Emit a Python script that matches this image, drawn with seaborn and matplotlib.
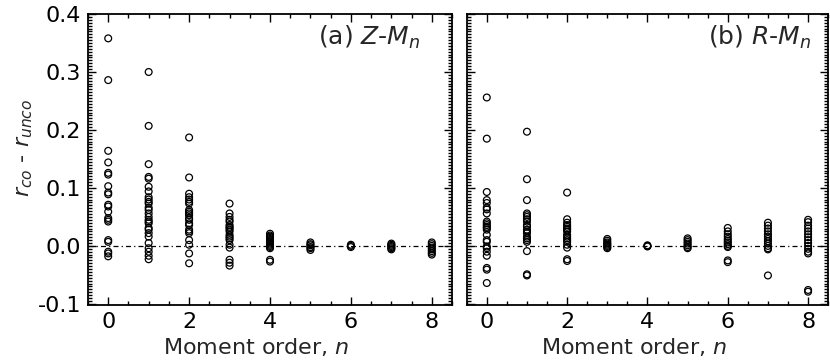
import matplotlib
matplotlib.use("Agg")
import matplotlib.pyplot as plt
import pandas as pd
import seaborn as sns
from matplotlib.ticker import MultipleLocator, FormatStrFormatter

orders = [0, 1, 2, 3, 4, 5, 6, 7, 8]

# r_co - r_unco, one list per moment order n
zm_diff = [
    [0.358, 0.286, 0.164, 0.144, 0.126, 0.123, 0.103, 0.092, 0.089, 0.071, 0.068,
     0.059, 0.048, 0.045, 0.042, 0.010, 0.007, -0.010, -0.013, -0.018],
    [0.300, 0.207, 0.141, 0.119, 0.116, 0.102, 0.094, 0.084, 0.080, 0.076, 0.073,
     0.066, 0.062, 0.056, 0.050, 0.045, 0.042, 0.039, 0.031, 0.028, 0.022, 0.016,
     0.005, -0.004, -0.010, -0.017, -0.023],
    [0.187, 0.118, 0.090, 0.084, 0.080, 0.076, 0.073, 0.062, 0.059, 0.056, 0.053,
     0.048, 0.045, 0.039, 0.036, 0.028, 0.025, 0.022, 0.010, 0.002, -0.013, -0.030],
    [0.073, 0.056, 0.050, 0.045, 0.042, 0.036, 0.033, 0.031, 0.028, 0.025, 0.019,
     0.016, 0.013, 0.010, 0.002, -0.003, -0.024, -0.029, -0.034],
    [0.021, 0.018, 0.016, 0.014, 0.012, 0.010, 0.008, 0.006, 0.004, 0.002, 0.000,
     -0.002, -0.004, -0.024, -0.027],
    [0.006, 0.003, 0.001, -0.002, -0.004, -0.007],
    [0.002, 0.000, -0.002],
    [0.004, 0.002, 0.000, -0.002, -0.004, -0.006],
    [0.006, 0.003, 0.000, -0.003, -0.006, -0.009, -0.012, -0.015],
]

rm_diff = [
    [0.256, 0.185, 0.093, 0.079, 0.074, 0.066, 0.063, 0.056, 0.042, 0.039, 0.036,
     0.033, 0.031, 0.028, 0.019, 0.010, 0.007, -0.001, -0.004, -0.010, -0.017,
     -0.038, -0.041, -0.064],
    [0.197, 0.115, 0.079, 0.056, 0.053, 0.050, 0.046, 0.042, 0.036, 0.033, 0.028,
     0.025, 0.022, 0.016, 0.013, 0.010, 0.007, -0.009, -0.049, -0.051],
    [0.092, 0.046, 0.040, 0.036, 0.033, 0.030, 0.028, 0.025, 0.019, 0.016, 0.013,
     0.010, 0.007, 0.002, -0.003, -0.023, -0.026],
    [0.012, 0.009, 0.006, 0.004, 0.002, 0.000, -0.002, -0.004],
    [0.001, 0.000, -0.001],
    [0.013, 0.010, 0.007, 0.004, 0.001, -0.002, -0.004],
    [0.031, 0.025, 0.020, 0.016, 0.012, 0.009, 0.006, 0.003, 0.000, -0.002,
     -0.025, -0.028],
    [0.040, 0.035, 0.030, 0.025, 0.020, 0.016, 0.012, 0.008, 0.004, 0.000,
     -0.004, -0.006, -0.051],
    [0.045, 0.041, 0.035, 0.030, 0.025, 0.020, 0.015, 0.010, 0.005, 0.000,
     -0.005, -0.010, -0.013, -0.076, -0.079],
]

panel_labels = [r"(a) $Z$-$M_n$", r"(b) $R$-$M_n$"]


def to_frame(diffs):
    rows = [(n, v) for n, vals in zip(orders, diffs) for v in vals]
    return pd.DataFrame(rows, columns=["n", "diff"])


sns.set_style("ticks")
plt.rcParams["font.family"] = ["DejaVu Sans"]
plt.rcParams["mathtext.fontset"] = "dejavusans"
plt.rcParams["axes.unicode_minus"] = False

fig = plt.figure(figsize=(8.3, 3.64), dpi=100)
ax1 = fig.add_axes([0.106, 0.162, 0.4386, 0.7995])
ax2 = fig.add_axes([0.5623, 0.162, 0.4355, 0.7995])

for ax, diffs, lab, lx in zip([ax1, ax2], [zm_diff, rm_diff], panel_labels, [0.912, 0.953]):
    ax.axhline(0, color="black", lw=0.9, ls=(0, (4, 2.5, 1, 2.5)), zorder=1)
    sns.scatterplot(data=to_frame(diffs), x="n", y="diff", ax=ax, marker="o", s=24,
                    facecolor="none", edgecolor="black", linewidth=0.9, zorder=3)
    ax.set_xlim(-0.5, 8.5)
    ax.set_ylim(-0.102, 0.4)
    ax.xaxis.set_major_locator(MultipleLocator(2))
    ax.xaxis.set_minor_locator(MultipleLocator(0.5))
    ax.yaxis.set_major_locator(MultipleLocator(0.1))
    ax.yaxis.set_minor_locator(MultipleLocator(0.005))
    ax.yaxis.set_major_formatter(FormatStrFormatter("%.1f"))
    ax.tick_params(which="both", direction="in", top=True, right=True, width=1,
                   labelsize=16, colors="black")
    ax.tick_params(which="major", length=6, pad=5)
    ax.tick_params(which="minor", length=3)
    for sp in ax.spines.values():
        sp.set_linewidth(1.3)
        sp.set_color("black")
    ax.set_xlabel(r"Moment order, $n$", fontsize=16)
    ax.xaxis.set_label_coords(0.463, -0.105)
    ax.text(lx, 0.965, lab, transform=ax.transAxes, ha="right", va="top", fontsize=18)

ax1.set_ylabel(r"$r_{co}$ - $r_{unco}$", fontsize=16)
ax1.yaxis.set_label_coords(-0.145, 0.54)
ax2.set_ylabel("")
ax2.tick_params(labelleft=False)

fig.savefig("out.png", dpi=100)
